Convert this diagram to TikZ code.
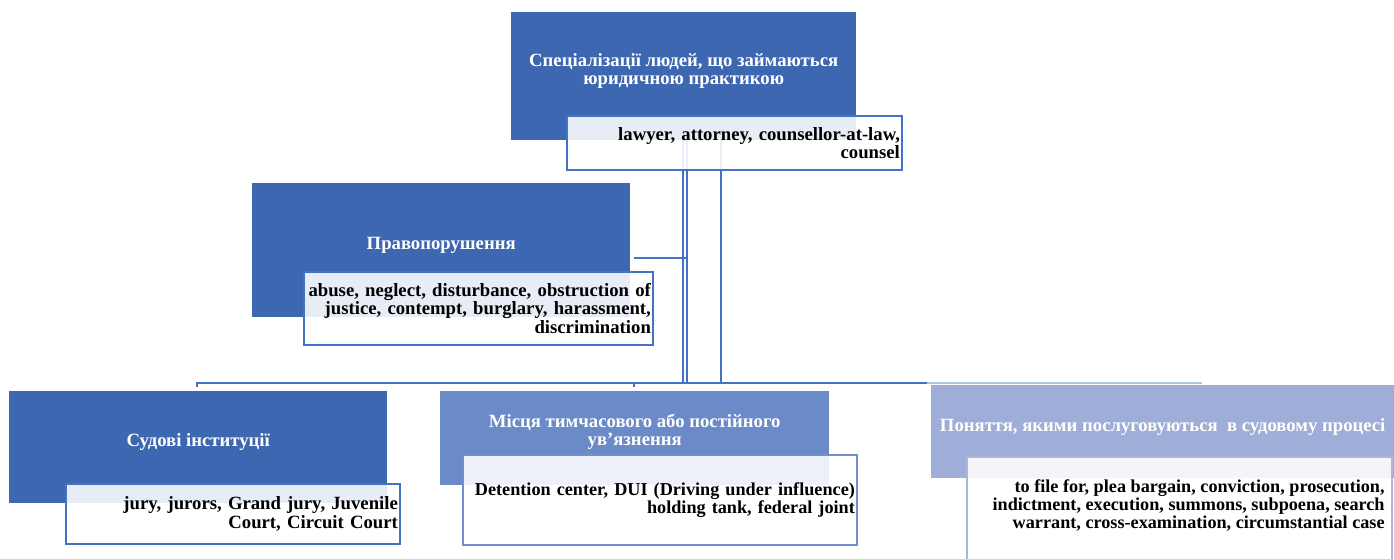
\documentclass[tikz,border=0pt]{standalone}
\usepackage{fontspec}
\setmainfont{Liberation Serif}
\definecolor{dkblue}{RGB}{62,103,177}
\definecolor{mdblue}{RGB}{107,138,200}
\definecolor{ltblue}{RGB}{159,174,216}
\definecolor{lineblue}{RGB}{68,114,196}
\definecolor{linelt}{RGB}{180,194,228}
\definecolor{mdborder}{RGB}{113,144,204}
\definecolor{ltborder}{RGB}{169,183,222}
\newcommand\ttlfnt{\fontsize{18.7}{18.2}\selectfont\bfseries}
\newcommand\bdyfnt{\fontsize{18.7}{18.2}\selectfont\bfseries}
\newcommand\bdyfntsm{\fontsize{18.2}{18.2}\selectfont\bfseries}
\begin{document}
\begin{tikzpicture}[x=1pt,y=-1pt,
  boxfill/.style={fill=#1, draw=none, anchor=north west, inner sep=0pt},
  title/.style={font=\ttlfnt, text=white, align=center, inner sep=0pt},
  textbox/.style={draw=#1, line width=1.8pt, fill=white, fill opacity=0.88, text opacity=1,
    anchor=north west, inner xsep=2pt, inner ysep=0pt, font=\bdyfnt, align=right, text=black},
  bodytext/.style={font=\bdyfnt, align=right, text=black, inner sep=0pt},
  conn/.style={draw=lineblue, line width=2pt},
  connlt/.style={draw=linelt, line width=1.5pt}]
\useasboundingbox (0,0) rectangle (1394,559);
\clip (0,0) rectangle (1394,559);
% junction coordinates
\coordinate (j1) at (683,383);
\coordinate (j2) at (687,383);
\coordinate (j3) at (721,383);
\coordinate (h1) at (634,258);
\coordinate (b0) at (197,387);
\coordinate (b1) at (197,383);
\coordinate (bm) at (927,383);
\coordinate (bend) at (1202,383);
\coordinate (t2a) at (634,383);
\coordinate (t2b) at (634,387);
% top box (drawn first so lines sit below the text box)
\node[boxfill=dkblue, minimum width=345pt, minimum height=128pt] (top) at (511,12) {};
% connectors
\draw[conn] (top.south -| j1) -- (j1);
\draw[conn] (top.south -| j2) -- (j2);
\draw[conn] (top.south -| j3) -- (j3);
\draw[conn] (h1) -- (h1 -| j2);
\draw[conn] (b0) -- (b1) -- (bm);
\draw[connlt] (bm) -- (bend);
\draw[conn] (t2a) -- (t2b);
% top
\node[title] (toptitle) at ([yshift=5pt]top.center) {Спеціалізації людей, що займаються\\юридичною практикою};
\node[textbox=lineblue, minimum width=335pt, text width=331pt, minimum height=54pt] (toptext) at (566,115)
  {lawyer, attorney, counsellor-at-law,\\counsel};
% left
\node[boxfill=dkblue, minimum width=378pt, minimum height=134pt] (lft) at (252,183) {};
\node[title] (lfttitle) at ([yshift=5pt]lft.center) {Правопорушення};
\node[textbox=lineblue, minimum width=349pt, text width=345pt, minimum height=73pt] (lfttext) at (303,271)
  {abuse, neglect, disturbance, obstruction of\\justice, contempt, burglary, harassment,\\discrimination};
% bottom left
\node[boxfill=dkblue, minimum width=378pt, minimum height=112pt] (c1) at (9,391) {};
\node[title] (c1title) at ([yshift=5pt]c1.center) {Судові інституції};
\node[textbox=lineblue, minimum width=334pt, text width=330pt, minimum height=60pt] (c1text) at (65,483)
  {jury, jurors, Grand jury, Juvenile\\Court, Circuit Court};
% bottom middle
\node[boxfill=mdblue, minimum width=389pt, minimum height=94pt] (c2) at (440,391) {};
\node[title] (c2title) at ([yshift=6pt]c2.center) {Місця тимчасового або постійного\\ув’язнення};
\node[textbox=mdborder, minimum width=394pt, text width=390pt, minimum height=90pt, font=\bdyfntsm] (c2text) at (462,454)
  {Detention center, DUI (Driving under influence)\\holding tank, federal joint};
% bottom right
\node[boxfill=ltblue, minimum width=463pt, minimum height=93pt] (c3) at (931,385) {};
\node[title] (c3title) at ([yshift=4.5pt]c3.center) {Поняття, якими послуговуються\ \ в судовому процесі};
\node[textbox=ltborder, minimum width=425pt, minimum height=130pt] (c3text) at (966,456) {};
\node[bodytext, anchor=east, font=\bdyfntsm] (c3words) at ([shift={(-8pt,-49.5pt)}]c3text.north east)
  {to file for, plea bargain, conviction, prosecution,\\indictment, execution, summons, subpoena, search\\warrant, cross-examination, circumstantial case};
\end{tikzpicture}
\end{document}
